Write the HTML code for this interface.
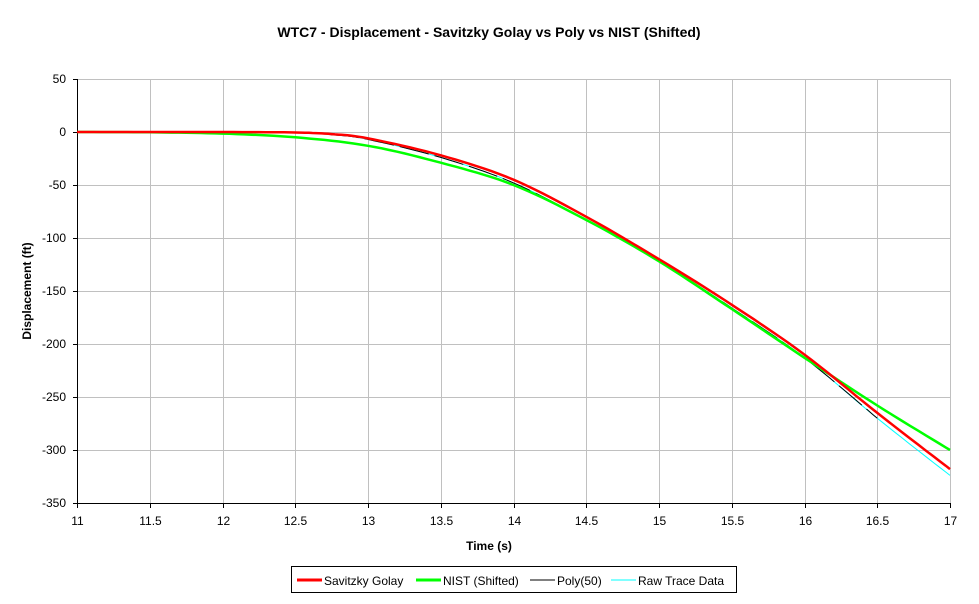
<!DOCTYPE html>
<html><head><meta charset="utf-8"><style>
body{margin:0;background:#fff;width:979px;height:599px;overflow:hidden;font-family:"Liberation Sans",Arial,sans-serif}
</style></head><body>
<svg id="s" width="979" height="599" xmlns="http://www.w3.org/2000/svg" font-family="Liberation Sans, Arial, sans-serif">
<text x="489" y="37" text-anchor="middle" font-size="14" font-weight="bold">WTC7 - Displacement - Savitzky Golay vs Poly vs NIST (Shifted)</text>
<g id="grid" stroke="#c0c0c0" stroke-width="1"></g>
<g id="lab" font-size="12"></g>
<text x="489" y="550" text-anchor="middle" font-size="12" font-weight="bold">Time (s)</text>
<text transform="translate(31,291) rotate(-90)" text-anchor="middle" font-size="12" font-weight="bold">Displacement (ft)</text>
<g id="ser" fill="none"></g>
<rect x="291.5" y="566.5" width="445" height="26" fill="#fff" stroke="#000"/>
<line x1="297" y1="580" x2="322" y2="580" stroke="#f00" stroke-width="3"/>
<text x="324" y="585" font-size="12">Savitzky Golay</text>
<line x1="416" y1="580" x2="441" y2="580" stroke="#0f0" stroke-width="3"/>
<text x="443" y="585" font-size="12">NIST (Shifted)</text>
<line x1="530" y1="580" x2="555" y2="580" stroke="#000" stroke-width="1"/>
<text x="557" y="585" font-size="12">Poly(50)</text>
<line x1="611" y1="580" x2="636" y2="580" stroke="#0ff" stroke-width="1"/>
<text x="638" y="585" font-size="12">Raw Trace Data</text>
</svg>
<script>
var X=t=>77+(t-11)*145.5, Y=v=>132-v*1.06;
var g=document.getElementById('grid'),l=document.getElementById('lab'),ns='http://www.w3.org/2000/svg';
function el(p,tag,a,txt){var e=document.createElementNS(ns,tag);for(var k in a)e.setAttribute(k,a[k]);if(txt!=null)e.textContent=txt;p.appendChild(e);return e}
for(var v=50;v>=-300;v-=50){el(g,'line',{x1:77,x2:950,y1:Y(v)+.5,y2:Y(v)+.5});}
for(var t=11.5;t<=17.01;t+=0.5){el(g,'line',{x1:Math.round(X(t))+.5,x2:Math.round(X(t))+.5,y1:79,y2:503});}
el(g,'line',{x1:77.5,x2:77.5,y1:79,y2:508,stroke:'#000'});
el(g,'line',{x1:73,x2:950,y1:503.5,y2:503.5,stroke:'#000'});
for(var v=50;v>=-350;v-=50){el(g,'line',{x1:73,x2:77,y1:Y(v)+.5,y2:Y(v)+.5,stroke:'#000'});el(l,'text',{x:66,y:Y(v)+4,'text-anchor':'end'},v);}
for(var t=11;t<=17.01;t+=0.5){var x=Math.round(X(t))+.5;el(g,'line',{x1:x,x2:x,y1:503,y2:508,stroke:'#000'});el(l,'text',{x:x,y:525,'text-anchor':'middle'},String(t));}
function path(pts){var s='';for(var i=0;i<pts.length-1;i++){var a=pts[i],b=pts[i+1];var p0=pts[Math.max(i-1,0)],p3=pts[Math.min(i+2,pts.length-1)];for(var k=0;k<=10;k++){var u=k/10,u2=u*u,u3=u2*u;var f=(q0,q1,q2,q3)=>0.5*(2*q1+(-q0+q2)*u+(2*q0-5*q1+4*q2-q3)*u2+(-q0+3*q1-3*q2+q3)*u3);var tt=f(p0[0],a[0],b[0],p3[0]),vv=f(p0[1],a[1],b[1],p3[1]);s+=(s?'L':'M')+X(tt).toFixed(1)+','+Y(vv).toFixed(1);}}return s}
var ser=document.getElementById('ser');
var cyan=[[11,0],[12.5,-0.5],[12.75,-2.5],[13,-7],[13.5,-24],[14,-48],[14.5,-83],[15,-122],[15.5,-166],[16,-213],[16.5,-270],[17,-324]];
var red=[[11,0],[12,0],[12.5,-0.5],[12.75,-2],[13,-6],[13.5,-22],[14,-45],[14.5,-80],[15,-120],[15.5,-163],[16,-210],[16.5,-265],[17,-318]];
var green=[[11,0],[11.5,-0.3],[12,-1.5],[12.5,-5],[13,-13],[13.5,-29],[14,-50],[14.5,-83],[15,-122],[15.5,-167],[16,-213],[16.5,-258],[17,-300]];
el(ser,'path',{d:path(cyan),stroke:'#0ff','stroke-width':1});
el(ser,'path',{d:path(cyan.filter(p=>p[0]<=16.5)),stroke:'#000','stroke-width':1,'stroke-dasharray':'30 6'});
el(ser,'path',{d:path(green),stroke:'#0f0','stroke-width':2.5});
el(ser,'path',{d:path(red),stroke:'#f00','stroke-width':2.5});
</script>
</body></html>
